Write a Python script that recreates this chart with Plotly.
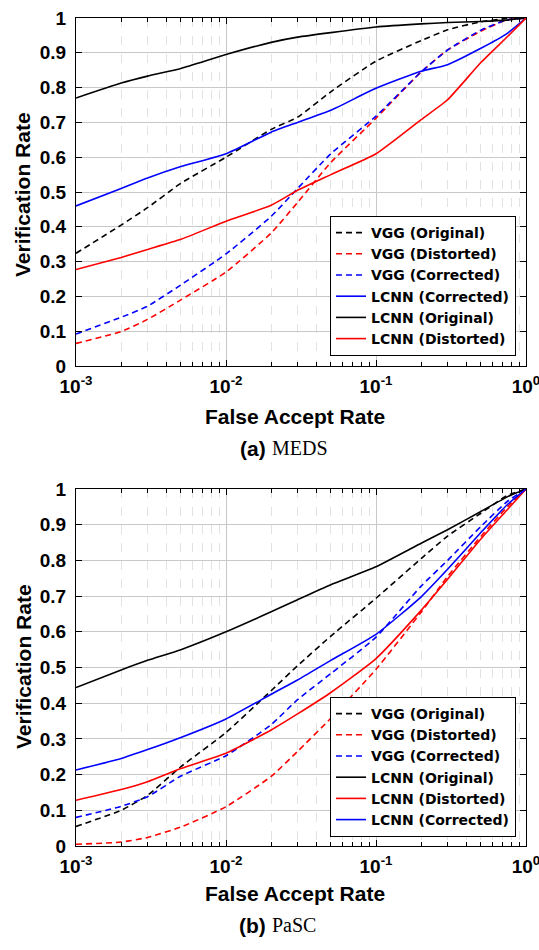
import plotly.graph_objects as go

# ---------------- data ----------------
far = [0.001, 0.002, 0.003, 0.005, 0.01, 0.02, 0.03, 0.05, 0.1, 0.2, 0.3, 0.5, 0.75, 1.0]

# (a) MEDS
meds_vgg_original = [0.324, 0.405, 0.455, 0.525, 0.600, 0.680, 0.715, 0.788, 0.876, 0.935, 0.966, 0.989, 0.999, 1.0]
meds_vgg_distorted = [0.065, 0.099, 0.134, 0.190, 0.270, 0.382, 0.470, 0.585, 0.712, 0.845, 0.908, 0.962, 0.995, 1.0]
meds_vgg_corrected = [0.092, 0.140, 0.172, 0.233, 0.322, 0.430, 0.510, 0.610, 0.718, 0.845, 0.908, 0.965, 0.995, 1.0]
meds_lcnn_corrected = [0.460, 0.510, 0.540, 0.573, 0.610, 0.672, 0.700, 0.735, 0.798, 0.847, 0.866, 0.913, 0.956, 1.0]
meds_lcnn_original = [0.770, 0.813, 0.833, 0.855, 0.895, 0.930, 0.945, 0.958, 0.974, 0.983, 0.987, 0.990, 0.994, 1.0]
meds_lcnn_distorted = [0.277, 0.312, 0.335, 0.364, 0.416, 0.462, 0.505, 0.550, 0.610, 0.708, 0.765, 0.872, 0.946, 1.0]

# (b) PaSC
pasc_vgg_original = [0.055, 0.100, 0.142, 0.222, 0.318, 0.435, 0.505, 0.588, 0.694, 0.805, 0.868, 0.932, 0.982, 1.0]
pasc_vgg_distorted = [0.005, 0.011, 0.024, 0.053, 0.110, 0.195, 0.265, 0.358, 0.495, 0.655, 0.755, 0.867, 0.950, 1.0]
pasc_vgg_corrected = [0.080, 0.111, 0.138, 0.196, 0.253, 0.340, 0.410, 0.483, 0.585, 0.728, 0.800, 0.895, 0.965, 1.0]
pasc_lcnn_original = [0.444, 0.493, 0.520, 0.550, 0.600, 0.656, 0.690, 0.732, 0.782, 0.848, 0.886, 0.937, 0.978, 1.0]
pasc_lcnn_distorted = [0.128, 0.158, 0.180, 0.217, 0.260, 0.325, 0.370, 0.430, 0.525, 0.660, 0.747, 0.860, 0.942, 1.0]
pasc_lcnn_corrected = [0.213, 0.245, 0.270, 0.304, 0.356, 0.425, 0.465, 0.520, 0.593, 0.698, 0.775, 0.878, 0.956, 1.0]

y_ticks = [0, 0.1, 0.2, 0.3, 0.4, 0.5, 0.6, 0.7, 0.8, 0.9, 1]
y_ticktext = ["0", "0.1", "0.2", "0.3", "0.4", "0.5", "0.6", "0.7", "0.8", "0.9", "1"]
x_ticks = [0.001, 0.01, 0.1, 1]
x_ticktext = ["10<sup>-3</sup>", "10<sup>-2</sup>", "10<sup>-1</sup>", "10<sup>0</sup>"]

top_series = [
    ("VGG (Original)", meds_vgg_original, "black", "6px,4px"),
    ("VGG (Distorted)", meds_vgg_distorted, "#ff0000", "6px,4px"),
    ("VGG (Corrected)", meds_vgg_corrected, "#0000ff", "6px,4px"),
    ("LCNN (Corrected)", meds_lcnn_corrected, "#0000ff", "solid"),
    ("LCNN (Original)", meds_lcnn_original, "black", "solid"),
    ("LCNN (Distorted)", meds_lcnn_distorted, "#ff0000", "solid"),
]
bottom_series = [
    ("VGG (Original)", pasc_vgg_original, "black", "6px,4px"),
    ("VGG (Distorted)", pasc_vgg_distorted, "#ff0000", "6px,4px"),
    ("VGG (Corrected)", pasc_vgg_corrected, "#0000ff", "6px,4px"),
    ("LCNN (Original)", pasc_lcnn_original, "black", "solid"),
    ("LCNN (Distorted)", pasc_lcnn_distorted, "#ff0000", "solid"),
    ("LCNN (Corrected)", pasc_lcnn_corrected, "#0000ff", "solid"),
]

W, H = 539, 950
FONT = "Liberation Sans, Arial, sans-serif"

fig = go.Figure()
for name, vals, col, dash in top_series:
    fig.add_trace(go.Scatter(x=far, y=vals, mode="lines", name=name,
                             line=dict(color=col, width=1.6, dash=dash, shape="spline", smoothing=0.5),
                             xaxis="x", yaxis="y", legend="legend"))
for name, vals, col, dash in bottom_series:
    fig.add_trace(go.Scatter(x=far, y=vals, mode="lines", name=name,
                             line=dict(color=col, width=1.6, dash=dash, shape="spline", smoothing=0.5),
                             xaxis="x2", yaxis="y2", legend="legend2"))

xdom = [76 / W, 526 / W]
ytop = [1 - 366 / H, 1 - 18 / H]
ybot = [1 - 846 / H, 1 - 489 / H]

tickfont = dict(family=FONT, size=19, color="black", weight="bold")

def xaxis(anchor, dom):
    return dict(type="log", domain=dom, anchor=anchor, range=[-3, 0],
                tickvals=x_ticks, ticktext=x_ticktext, tickfont=tickfont,
                showline=True, linecolor="black", linewidth=1.2, mirror="allticks",
                ticks="inside", ticklen=6, tickcolor="black",
                showgrid=True, gridcolor="#c8c8c8", gridwidth=1.2,
                minor=dict(dtick="D1", ticks="inside", ticklen=4, tickcolor="black",
                           showgrid=True, gridcolor="#e2e2e2", griddash="dash", gridwidth=1),
                zeroline=False, ticklabelstandoff=3, automargin=False,
                ticklabeloverflow="allow")

def yaxis(anchor, dom):
    return dict(domain=dom, anchor=anchor, range=[0, 1],
                tickvals=y_ticks, ticktext=y_ticktext, tickfont=tickfont,
                showline=True, linecolor="black", linewidth=1.2, mirror="allticks",
                ticks="inside", ticklen=6, tickcolor="black",
                showgrid=True, gridcolor="#c8c8c8", gridwidth=1.2,
                zeroline=False, ticklabelstandoff=5, automargin=False,
                ticklabeloverflow="allow")

legend_common = dict(bgcolor="white", bordercolor="black", borderwidth=1,
                     font=dict(family="DejaVu Sans, sans-serif", size=14, color="black", weight="bold"),
                     itemwidth=30, xanchor="right", yanchor="bottom", tracegroupgap=0)

fig.update_layout(
    width=W, height=H, margin=dict(l=0, r=0, t=0, b=0, autoexpand=False),
    paper_bgcolor="white", plot_bgcolor="white",
    showlegend=True,
    xaxis=xaxis("y", xdom), yaxis=yaxis("x", ytop),
    xaxis2=xaxis("y2", xdom), yaxis2=yaxis("x2", ybot),
    legend=dict(x=516 / W, y=1 - 356 / H, **legend_common),
    legend2=dict(x=516 / W, y=1 - 837 / H, **legend_common),
)

title_font = dict(family=FONT, size=21, color="black", weight="bold")
annots = [
    dict(text="Verification Rate", x=23 / W, y=1 - 195 / H, textangle=-90, font=title_font),
    dict(text="False Accept Rate", x=295 / W, y=1 - 416 / H, font=title_font),
    dict(text="Verification Rate", x=23 / W, y=1 - 667 / H, textangle=-90, font=title_font),
    dict(text="False Accept Rate", x=295 / W, y=1 - 893 / H, font=title_font),
]
for a in annots:
    fig.add_annotation(xref="paper", yref="paper", showarrow=False,
                       xanchor="center", yanchor="middle", **a)

cap_bold = dict(family=FONT, size=21, color="black", weight="bold")
cap_serif = dict(family="Liberation Serif, DejaVu Serif, serif", size=20, color="black")
for lab, word, yc in [("(a)", "MEDS", 448), ("(b)", "PaSC", 925)]:
    fig.add_annotation(xref="paper", yref="paper", showarrow=False, text=lab,
                       x=267 / W, y=1 - yc / H, xanchor="right", yanchor="middle", font=cap_bold,
                       borderpad=0)
    fig.add_annotation(xref="paper", yref="paper", showarrow=False, text=word,
                       x=271 / W, y=1 - yc / H, xanchor="left", yanchor="middle", font=cap_serif,
                       borderpad=0)

fig.write_html("out.html")
